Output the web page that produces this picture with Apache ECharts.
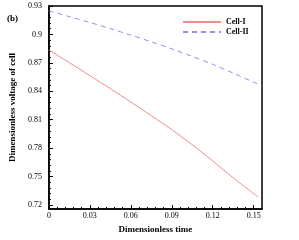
<!DOCTYPE html>
<html>
<head>
<meta charset="utf-8">
<script src="https://cdn.jsdelivr.net/npm/echarts@6/dist/echarts.min.js"></script>
<style>html,body{margin:0;padding:0;background:#fff;}#c{width:299px;height:240px;}</style>
</head>
<body>
<div id="c"></div>
<script>
// Data
const timeI = [0, 0.015, 0.03, 0.045, 0.06, 0.075, 0.09, 0.105, 0.12, 0.135, 0.1535];
const cellI = [0.8835, 0.8702, 0.8565, 0.8428, 0.8287, 0.8143, 0.7995, 0.7836, 0.7665, 0.7487, 0.7282];
const timeII = [0, 0.015, 0.03, 0.045, 0.06, 0.075, 0.09, 0.105, 0.12, 0.135, 0.15, 0.156];
const cellII = [0.9248, 0.9188, 0.9126, 0.9061, 0.8993, 0.8922, 0.8848, 0.8768, 0.8684, 0.8592, 0.8496, 0.8457];
const xTicks = [0, 0.03, 0.06, 0.09, 0.12, 0.15];
const yTicks = [0.72, 0.75, 0.78, 0.81, 0.84, 0.87, 0.9, 0.93];
const seriesNames = ['Cell-I', 'Cell-II'];

function minors(majors, n) {
  const out = [];
  for (let i = 0; i < majors.length - 1; i++) {
    const a = majors[i], b = majors[i + 1];
    for (let k = 1; k < n; k++) out.push(+(a + (b - a) * k / n).toFixed(4));
  }
  return out;
}
const xMinor = minors(xTicks, 5);
const yMinor = minors(yTicks, 5);

const FONT = 'Liberation Serif';
const X_MIN = 0, X_MAX = 0.1561, Y_MIN = 0.7158, Y_MAX = 0.93;

const chart = echarts.init(document.getElementById('c'), null, {renderer: 'canvas'});
chart.setOption({
  animation: false,
  backgroundColor: '#fff',
  grid: {left: 40, right: 37, top: 6, bottom: 31, show: true, borderColor: '#000', borderWidth: 1.5, backgroundColor: 'transparent'},
  legend: {
    data: seriesNames, orient: 'vertical', left: 182, top: 18, padding: 0,
    itemWidth: 38, itemHeight: 8, itemGap: 2,
    itemStyle: {opacity: 0},
    textStyle: {fontFamily: FONT, fontSize: 8, fontWeight: 'bold', color: '#000'}
  },
  graphic: [{type: 'text', left: 7, top: 14, style: {text: '(b)', font: 'bold 9px "Liberation Serif"', fill: '#000'}}],
  xAxis: [{
    type: 'value', min: X_MIN, max: X_MAX,
    name: 'Dimensionless time', nameLocation: 'middle', nameGap: 14,
    nameTextStyle: {fontFamily: FONT, fontSize: 9, fontWeight: 'bold', color: '#000'},
    axisLine: {show: true, lineStyle: {color: '#000', width: 1.5}},
    axisTick: {show: true, inside: true, length: 4, customValues: xTicks, lineStyle: {color: '#000', width: 1}},
    axisLabel: {show: true, customValues: xTicks, margin: 3, fontFamily: FONT, fontSize: 8, color: '#000'},
    splitLine: {show: false}
  }, {
    type: 'value', min: X_MIN, max: X_MAX, position: 'bottom',
    axisLine: {show: false},
    axisTick: {show: true, inside: true, length: 2, customValues: xMinor, lineStyle: {color: '#000', width: 1}},
    axisLabel: {show: false}, splitLine: {show: false}
  }],
  yAxis: [{
    type: 'value', min: Y_MIN, max: Y_MAX,
    name: 'Dimensionless voltage of cell', nameLocation: 'middle', nameGap: 24,
    nameTextStyle: {fontFamily: FONT, fontSize: 9, fontWeight: 'bold', color: '#000'},
    axisLine: {show: true, lineStyle: {color: '#000', width: 1.5}},
    axisTick: {show: true, inside: true, length: 4, customValues: yTicks, lineStyle: {color: '#000', width: 1}},
    axisLabel: {show: true, customValues: yTicks, margin: 7, fontFamily: FONT, fontSize: 8, color: '#000'},
    splitLine: {show: false}
  }, {
    type: 'value', min: Y_MIN, max: Y_MAX, position: 'left', offset: 0,
    axisLine: {show: false},
    axisTick: {show: true, inside: true, length: 2, customValues: yMinor, lineStyle: {color: '#000', width: 1}},
    axisLabel: {show: false}, splitLine: {show: false}
  }],
  series: [{
    name: seriesNames[0], type: 'line', xAxisIndex: 0, yAxisIndex: 0,
    data: timeI.map((t, i) => [t, cellI[i]]),
    symbol: 'none', smooth: 0.3, lineStyle: {color: '#f08c8c', width: 1}, itemStyle: {color: '#f08c8c'}
  }, {
    name: seriesNames[1], type: 'line', xAxisIndex: 0, yAxisIndex: 0,
    data: timeII.map((t, i) => [t, cellII[i]]),
    symbol: 'none', smooth: 0.3, lineStyle: {color: '#9090ee', width: 1, type: [5, 4]}, itemStyle: {color: '#9090ee'}
  }]
});
</script>
</body>
</html>
